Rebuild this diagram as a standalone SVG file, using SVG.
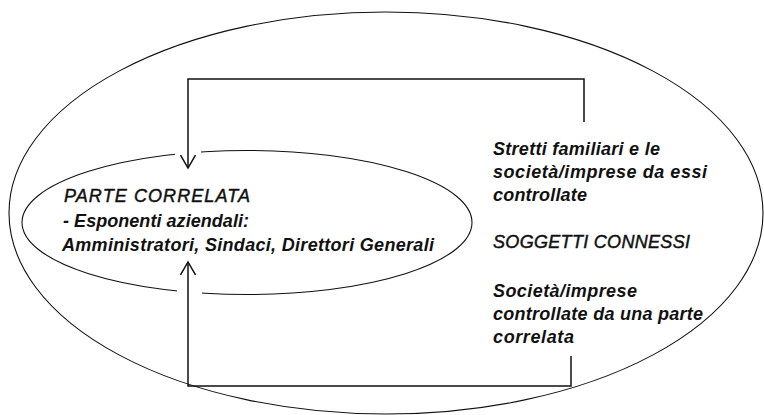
<svg xmlns="http://www.w3.org/2000/svg" width="764" height="415" viewBox="0 0 764 415">
<style>
.shape{fill:none;stroke:#111;stroke-width:1.1}
.conn{fill:none;stroke:#111;stroke-width:1.5}
.t{font-family:"Liberation Sans",Arial,sans-serif;font-size:18px;font-style:italic;fill:#111}
.m{stroke:#111;stroke-width:0.45}
.b{font-weight:bold}
</style>
<defs>
<marker id="open" viewBox="0 0 16 16" refX="14" refY="8" markerWidth="16" markerHeight="16" markerUnits="userSpaceOnUse" orient="auto">
<path d="M1,0.5 L14,8 L1,15.5" fill="none" stroke="#111" stroke-width="1.5"/>
</marker>
</defs>
<rect width="764" height="415" fill="#fff"/>
<g id="outer-set">
<ellipse class="shape" cx="386" cy="213" rx="377" ry="201"/>
</g>
<g id="parte-correlata">
<ellipse class="shape" cx="247" cy="222.5" rx="225" ry="72"/>
<rect x="175" y="147" width="26" height="11" fill="#fff"/>
<rect x="177" y="287" width="25" height="11" fill="#fff"/>
<text class="t m" x="64" y="202" textLength="186" lengthAdjust="spacing">PARTE CORRELATA</text>
<text class="t b" x="63" y="226.5" textLength="186" lengthAdjust="spacing">- Esponenti aziendali:</text>
<text class="t b" x="62" y="250.5" textLength="372" lengthAdjust="spacing">Amministratori, Sindaci, Direttori Generali</text>
</g>
<g id="stretti-familiari">
<text class="t b" x="493" y="155" textLength="167" lengthAdjust="spacing">Stretti familiari e le</text>
<text class="t b" x="493" y="178" textLength="214" lengthAdjust="spacing">società/imprese da essi</text>
<text class="t b" x="493" y="200.7" textLength="94" lengthAdjust="spacing">controllate</text>
</g>
<g id="soggetti-connessi">
<text class="t m" x="493" y="248.3" textLength="197" lengthAdjust="spacing">SOGGETTI CONNESSI</text>
</g>
<g id="societa-controllate">
<text class="t b" x="493" y="296.5" textLength="144" lengthAdjust="spacing">Società/imprese</text>
<text class="t b" x="493" y="319.7" textLength="210" lengthAdjust="spacing">controllate da una parte</text>
<text class="t b" x="493" y="342.7" textLength="81" lengthAdjust="spacing">correlata</text>
</g>
<g id="connectors">
<path class="conn" d="M584,122 V79 H188 V168" marker-end="url(#open)"/>
<path class="conn" d="M571,356 V386 H188 V262" marker-end="url(#open)"/>
</g>
</svg>
